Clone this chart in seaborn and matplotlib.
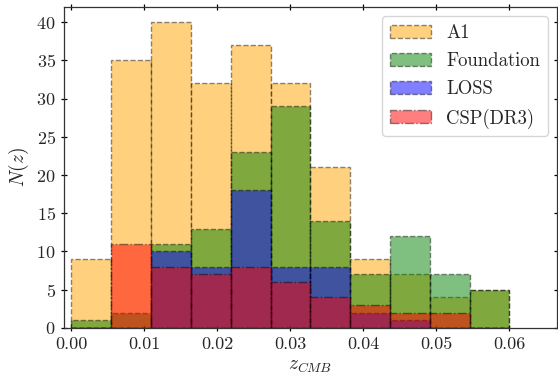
import numpy as np
import pandas as pd
import seaborn as sns
import matplotlib
matplotlib.use("Agg")
import matplotlib.pyplot as plt

# bin centres of the redshift histogram (11 bins between 0 and 0.06)
z_centers = [0.0027, 0.0082, 0.0136, 0.0191, 0.0245, 0.0300,
             0.0355, 0.0409, 0.0464, 0.0518, 0.0573]

# counts per bin
a1_counts = [9, 35, 40, 32, 37, 32, 21, 9, 7, 4, 5]
foundation_counts = [1, 2, 11, 13, 23, 29, 14, 7, 12, 7, 5]
loss_counts = [0, 0, 10, 8, 18, 8, 8, 2, 1, 0, 0]
csp_counts = [0, 11, 8, 7, 8, 6, 4, 3, 2, 2, 0]

samples = ["A1", "Foundation", "LOSS", "CSP(DR3)"]
colors = ["orange", "green", "blue", "red"]
styles = ["--", "--", "--", "-."]

sns.set_style("ticks")
plt.rcParams["font.family"] = "serif"
plt.rcParams["font.serif"] = ["cmr10", "DejaVu Serif"]
plt.rcParams["mathtext.fontset"] = "cm"
plt.rcParams["axes.formatter.use_mathtext"] = True

fig = plt.figure(figsize=(5.58, 3.8), dpi=100)
ax = fig.add_axes([0.115, 0.137, 0.883, 0.845])

for name, counts, col, ls in zip(samples,
                                 [a1_counts, foundation_counts, loss_counts, csp_counts],
                                 colors, styles):
    df = pd.DataFrame({"z": z_centers, "n": counts})
    sns.histplot(data=df, x="z", weights="n", bins=11, binrange=(0, 0.06),
                 color=col, alpha=0.5, edgecolor=(0, 0, 0, 0.45),
                 linestyle=ls, linewidth=1.0, label=name, ax=ax)

ax.set_xlim(-0.001, 0.0665)
ax.set_ylim(0, 42)
ax.set_xticks([0.0, 0.01, 0.02, 0.03, 0.04, 0.05, 0.06])
ax.set_yticks(range(0, 41, 5))
ax.xaxis.set_major_formatter(matplotlib.ticker.FormatStrFormatter("%.2f"))
ax.tick_params(direction="inout", top=True, right=True, length=5, width=0.9,
               labelsize=13, color="k")
for s in ax.spines.values():
    s.set_color("0.2")
    s.set_linewidth(0.9)

ax.set_xlabel(r"$z_{CMB}$", fontsize=14)
ax.set_ylabel(r"$N(z)$", fontsize=14)
ax.legend(loc="upper right", fontsize=13.5, handlelength=2.2, labelspacing=0.55,
          frameon=True, fancybox=True, framealpha=0.8, edgecolor="0.8")

fig.savefig("out.png", dpi=100)
